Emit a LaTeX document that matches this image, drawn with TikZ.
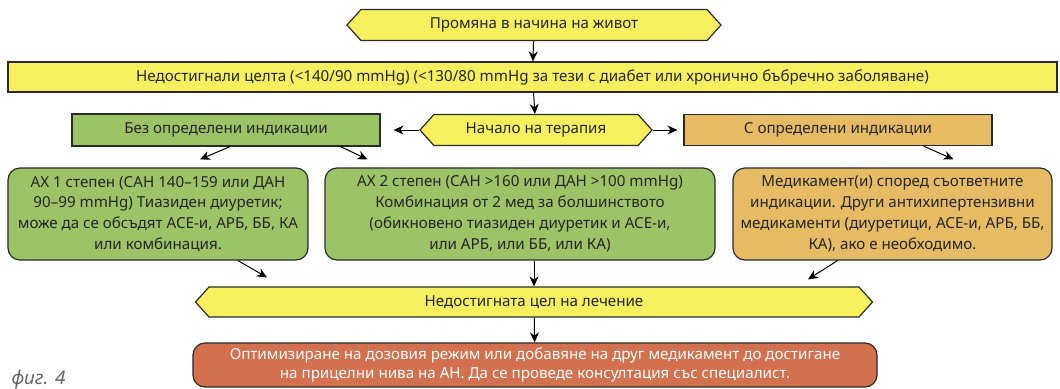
\documentclass[tikz,border=0pt]{standalone}
\usepackage{fontspec}
\setmainfont[Language=Bulgarian]{Noto Sans}
\usepackage{tikz}
\usetikzlibrary{shapes.symbols,arrows.meta}
\definecolor{StepYellow}{HTML}{F6EF5E}
\definecolor{StepGreen}{HTML}{9CC366}
\definecolor{StepTan}{HTML}{E5BB63}
\definecolor{StepRed}{HTML}{D3714F}
\definecolor{EdgeGray}{HTML}{2B2B2B}
\tikzset{
  base/.style={draw=EdgeGray,line width=1.2bp,text=black!85,inner sep=0pt,
    font=\fontsize{15.2}{21}\selectfont,align=center},
  hexbox/.style={base,shape=signal,signal to=west and east,signal pointer angle=96,
    fill=StepYellow},
  barbox/.style={base,rectangle,fill=StepYellow},
  flatbox/.style={base,rectangle},
  roundbox/.style={base,rectangle,rounded corners=12bp},
  arr/.style={-{Stealth[length=10bp,width=9bp]},line width=1bp,black}
}
\begin{document}
\begin{tikzpicture}[x=1bp,y=-1bp]
    \useasboundingbox (0,0) rectangle (1060,388);
    \node[hexbox,minimum width=374bp,minimum height=31bp] (change) at (534,25) {Промяна в начина на живот};
    \node[barbox,minimum width=1049bp,minimum height=30bp] (goal) at (532.5,77) {Недостигнали целта (<140/90 mmHg) (<130/80 mmHg за тези с диабет или хронично бъбречно заболяване)};
    \node[hexbox,minimum width=232bp,minimum height=31bp] (start) at (536,130) {Начало на терапия};
    \node[flatbox,fill=StepGreen,minimum width=308bp,minimum height=32bp] (nocond) at (226,130) {Без определени индикации};
    \node[flatbox,fill=StepTan,minimum width=308bp,minimum height=31bp] (withcond) at (838,130) {С определени индикации};
    \node[roundbox,fill=StepGreen,minimum width=300bp,minimum height=92bp] (stage1) at (158,214)
      {АХ 1 степен (САН 140–159 или ДАН\\90–99 mmHg) Тиазиден диуретик;\\може да се обсъдят ACE-и, АРБ, ББ, КА\\или комбинация.};
    \node[roundbox,fill=StepGreen,minimum width=390bp,minimum height=92bp] (stage2) at (520,214)
      {АХ 2 степен (САН >160 или ДАН >100 mmHg)\\Комбинация от 2 мед за болшинството\\(обикновено тиазиден диуретик и ACE-и,\\или АРБ, или ББ, или КА)};
    \node[roundbox,fill=StepTan,minimum width=319bp,minimum height=92bp] (drugs) at (892.5,214)
      {Медикамент(и) според съответните\\индикации. Други антихипертензивни\\медикаменти (диуретици, ACE-и, АРБ, ББ,\\КА), ако е необходимо.};
    \node[hexbox,minimum width=677bp,minimum height=30bp] (fail) at (534,302) {Недостигната цел на лечение};
    \node[roundbox,fill=StepRed,text=white,minimum width=684bp,minimum height=44bp,
      font=\fontsize{15.2}{19}\selectfont] (optim) at (535,365)
      {Оптимизиране на дозовия режим или добавяне на друг медикамент до достигане\\на прицелни нива на АН. Да се проведе консултация със специалист.};
    \node[anchor=base west,text=black!60,font=\fontsize{19}{19}\itshape] (figlabel) at (8,384) {фиг. 4};
    \draw[arr] (change) -- (goal);
    \draw[arr] (goal) -- (start);
    \draw[arr,shorten >=13bp] (start.west) -- (nocond.east);
    \draw[arr,shorten >=6bp] (start.east) -- (withcond.west);
    \draw[arr] ([xshift=4bp]nocond.south) -- ([xshift=42bp,yshift=8bp]stage1.north);
    \draw[arr] ([xshift=-40bp]nocond.south east) -- ([xshift=43bp,yshift=8bp]stage2.north west);
    \draw[arr] ([xshift=-69bp]withcond.south east) -- ([xshift=61bp,yshift=8bp]drugs.north);
    \draw[arr] ([xshift=80bp]stage1.south) -- ([xshift=-267bp,yshift=9bp]fail.north);
    \draw[arr] (stage2.south -| fail.north) -- (fail.north);
    \draw[arr] ([xshift=-55bp]drugs.south) -- ([xshift=274bp,yshift=7bp]fail.north);
    \draw[arr] (fail) -- (optim);
\end{tikzpicture}
\end{document}
